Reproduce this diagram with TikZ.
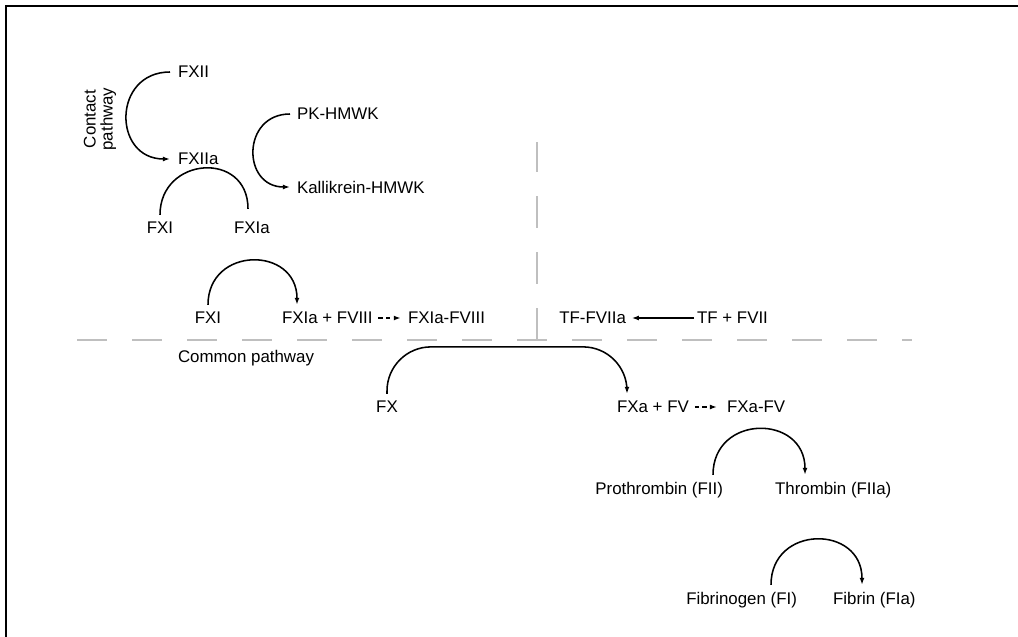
\documentclass[tikz,border=0pt]{standalone}
\usepackage{fontspec}
\setmainfont{Liberation Sans}
\usetikzlibrary{arrows.meta, calc}

\begin{document}
\begin{tikzpicture}[x=0.025cm, y=-0.025cm,
    every node/.style={font=\fontsize{12}{12}\selectfont, inner xsep=2pt, inner ysep=5pt},
    plainarc/.style={line width=1.1pt},
    conv/.style={plainarc, -{Latex[length=5pt,width=3.5pt]}},
    dconv/.style={conv, dash pattern=on 3pt off 2.5pt, shorten <=2pt, shorten >=3pt},
    sep/.style={gray!50, line width=1.4pt}]
    \useasboundingbox (0,0) rectangle (1018,637);

    % Frame
    \draw[line width=1.6pt] (6,637) -- (6,6) -- (1018,6);

    % Pathway separators
    \draw[sep, dash pattern=on 0.75cm off 0.625cm] (77,340) -- (912,340);
    \draw[sep, dash pattern=on 0.8cm off 0.6cm] (537,340) -- (537,142);

    % 1. Contact pathway
    \node[rotate=90, align=center] (contact) at (100,119) {Contact\\pathway};
    \node[anchor=west] (fxii) at (175,72) {FXII};
    \node[anchor=west] (fxiia) at (175,159) {FXIIa};
    \draw[conv] ($(fxii.west)+(-5,0)$) to[out=180, in=180, looseness=1.7] ($(fxiia.west)+(-5,0)$);

    % 2. Kallikrein
    \node[anchor=west] (pk) at (294,114) {PK-HMWK};
    \node[anchor=west] (kal) at (294,187) {Kallikrein-HMWK};
    \draw[conv] ($(pk.west)+(-4,0)$) to[out=180, in=180, looseness=1.7] ($(kal.west)+(-4,0)$);

    % 3. FXI activation
    \node (fxi1) at (160,228) {FXI};
    \node[anchor=west] (fxia1) at (231,228) {FXIa};
    \draw[plainarc] (fxi1.north) to[out=90, in=90, looseness=1.7] ($(fxia1.north west)+(17,-6)$);

    \node (fxi2) at (208,318) {FXI};
    \node[anchor=west] (f8) at (279,318) {FXIa + FVIII};
    \node[anchor=west] (f8c) at (405,318) {FXIa-FVIII};
    \draw[conv] (fxi2.north) to[out=90, in=90, looseness=1.7] ($(f8.north west)+(18,0)$);
    \draw[dconv] (f8.east) -- (f8c.west);

    % 4. Tissue factor
    \node[anchor=east] (tf7a) at (629,318) {TF-FVIIa};
    \node[anchor=west] (tf7) at (694,318) {TF + FVII};
    \draw[conv, shorten >=2pt] (tf7.west) -- (tf7a.east);

    % 5. Common pathway
    \node (common) at (246,358) {Common pathway};
    \node (fx) at (387,407) {FX};
    \node[anchor=west] (fxa) at (614,407) {FXa + FV};
    \node[anchor=west] (fxafv) at (724,407) {FXa-FV};
    \draw[conv, rounded corners=1.1cm] (fx.north) -- ++(0,-47) -| ($(fxa.north west)+(13,0)$);
    \draw[dconv, shorten >=5pt] (fxa.east) -- (fxafv.west);

    % 6. Thrombin
    \node[anchor=east] (pro) at (726,490) {Prothrombin (FII)};
    \node[anchor=west] (thr) at (772,490) {Thrombin (FIIa)};
    \draw[conv] ($(pro.north east)+(-13,0)$) to[out=90, in=90, looseness=1.7] ($(thr.north west)+(33,0)$);

    % 7. Fibrin
    \node[anchor=east] (fbg) at (800,600) {Fibrinogen (FI)};
    \node[anchor=west] (fbn) at (830,600) {Fibrin (FIa)};
    \draw[conv] ($(fbg.north east)+(-29,0)$) to[out=90, in=90, looseness=1.7] ($(fbn.north west)+(32,0)$);

\end{tikzpicture}
\end{document}
